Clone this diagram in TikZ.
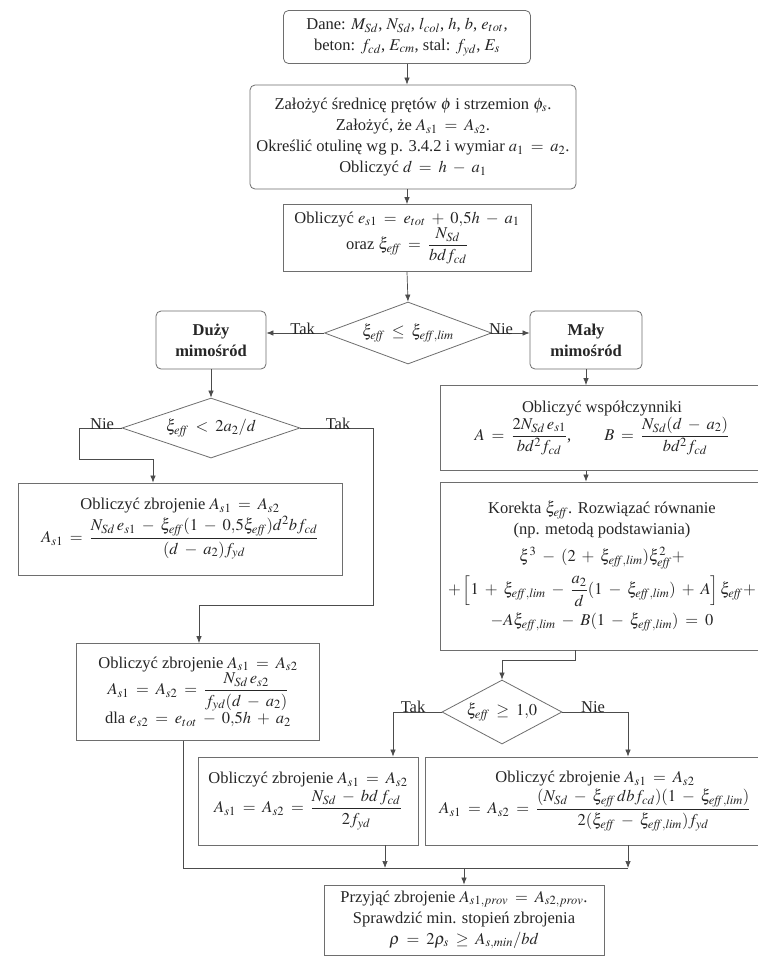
\documentclass[tikz,border=0pt]{standalone}
\usepackage{amsmath}
\usepackage{mathptmx}
\usepackage{fontspec}
\setmainfont{Liberation Serif}
\usetikzlibrary{shapes.geometric,arrows.meta}
\DeclareMathSizes{16.5}{16.5}{12.5}{10}
\definecolor{txtcol}{HTML}{262626}
\definecolor{bordercol}{HTML}{6E6E6E}
\definecolor{linecol}{HTML}{4C4C4C}
\newcommand{\ef}{\mathit{eff}}
\newcommand{\efl}{\mathit{eff,lim}}
\newcommand{\fsz}{\fontsize{16.5}{21}\selectfont}
\medmuskip=6.5mu plus 2mu minus 3mu
\thickmuskip=7.5mu plus 3mu
\begin{document}
\begin{tikzpicture}[x=1pt,y=-1pt,
  every node/.style={text=txtcol, font=\fsz},
  box/.style={draw=bordercol, line width=0.8pt, align=center, inner sep=2pt},
  rbox/.style={box, rounded corners=5pt},
  dia/.style={diamond, draw=bordercol, line width=0.8pt, aspect=2.6, inner sep=0pt},
  arr/.style={draw=linecol, line width=0.7pt, -{Latex[length=7pt,width=5.5pt]}},
  conn/.style={draw=linecol, line width=0.7pt},
  lbl/.style={inner sep=1pt}]
\useasboundingbox[fill=white] (0,0) rectangle (758,959);

% top chain
\node[rbox, minimum width=247pt, minimum height=53pt] (b1) at (407,37)
  {Dane: $M_{Sd}$, $N_{Sd}$, $l_{col}$, $h$, $b$, $e_{tot}$,\\
   beton: $f_{cd}$, $E_{cm}$, stal: $f_{yd}$, $E_s$};
\node[rbox, minimum width=326pt, minimum height=104pt] (b2) at (413,137)
  {Założyć średnicę prętów $\phi$ i strzemion $\phi_s$.\\
   Założyć, że $A_{s1}=A_{s2}$.\\
   Określić otulinę wg p. 3.4.2 i wymiar $a_1=a_2$.\\
   Obliczyć $d=h-a_1$};
\node[box, minimum width=248pt, minimum height=67pt] (b3) at (407,238)
  {Obliczyć $e_{s1}=e_{tot}+0{,}5h-a_1$\\
   oraz $\xi_{\ef}=\dfrac{N_{Sd}}{bdf_{cd}}$};
\node[dia, minimum width=167pt, minimum height=62pt] (d1) at (408,333)
  {$\xi_{\ef}\le\xi_{\efl}$};
\node[rbox, minimum width=110pt, minimum height=58pt, font=\fsz\bfseries] (dk) at (211,340)
  {Duży\\mimośród};
\node[rbox, minimum width=112pt, minimum height=58pt, font=\fsz\bfseries] (mk) at (586,340)
  {Mały\\mimośród};

% left branch
\node[dia, minimum width=178pt, minimum height=60pt] (d2) at (211,428)
  {$\xi_{\ef}<2a_2/d$};
\node[box, minimum width=324pt, minimum height=92pt] (b4) at (180,529)
  {Obliczyć zbrojenie $A_{s1}=A_{s2}$\\[2pt]
   $A_{s1}=\dfrac{N_{Sd}\,e_{s1}-\xi_{\ef}(1-0{,}5\xi_{\ef})d^2bf_{cd}}{(d-a_2)f_{yd}}$};
\node[box, minimum width=243pt, minimum height=97pt] (b5) at (198,692)
  {Obliczyć zbrojenie $A_{s1}=A_{s2}$\\
   $A_{s1}=A_{s2}=\dfrac{N_{Sd}\,e_{s2}}{f_{yd}(d-a_2)}$\\
   dla $e_{s2}=e_{tot}-0{,}5h+a_2$};

% right branch
\node[box, minimum width=324pt, minimum height=85pt] (b6) at (602,428)
  {Obliczyć współczynniki\\
   $A=\dfrac{2N_{Sd}\,e_{s1}}{bd^2f_{cd}}$,\qquad $B=\dfrac{N_{Sd}(d-a_2)}{bd^2f_{cd}}$};
\node[box, minimum width=324pt, minimum height=168pt] (b7) at (602,566)
  {Korekta $\xi_{\ef}$. Rozwiązać równanie\\
   (np. metodą podstawiania)\\[6pt]
   $\xi^3-(2+\xi_{\efl})\xi^2_{\ef}+$\\[6pt]
   $+\left[1+\xi_{\efl}-\dfrac{a_2}{d}(1-\xi_{\efl})+A\right]\xi_{\ef}+$\\[6pt]
   $-A\xi_{\efl}-B(1-\xi_{\efl})=0$};
\node[dia, minimum width=120pt, minimum height=64pt] (d3) at (502,712)
  {$\xi_{\ef}\ge 1{,}0$};
\node[box, minimum width=220pt, minimum height=88pt] (b8) at (308,801)
  {Obliczyć zbrojenie $A_{s1}=A_{s2}$\\[2pt]
   $A_{s1}=A_{s2}=\dfrac{N_{Sd}-bd\,f_{cd}}{2f_{yd}}$};
\node[box, minimum width=340pt, minimum height=88pt] (b9) at (595,801)
  {Obliczyć zbrojenie $A_{s1}=A_{s2}$\\[2pt]
   $A_{s1}=A_{s2}=\dfrac{(N_{Sd}-\xi_{\ef}\,dbf_{cd})(1-\xi_{\efl})}{2(\xi_{\ef}-\xi_{\efl})f_{yd}}$};
\node[box, minimum width=280pt, minimum height=70pt] (b10) at (464,920)
  {Przyjąć zbrojenie $A_{s1,prov}=A_{s2,prov}$.\\
   Sprawdzić min. stopień zbrojenia\\
   $\rho=2\rho_s\ge A_{s,min}/bd$};

% helper coordinates
\coordinate (nL1) at (79,428);
\coordinate (nL2) at (79,459);
\coordinate (nL3) at (153,459);
\coordinate (tR1) at (373,428);
\coordinate (tR2) at (373,605);
\coordinate (tR3) at (199,605);
\coordinate (k1) at (575,660);
\coordinate (k2) at (502,660);
\coordinate (t3) at (393,712);
\coordinate (n3) at (628,712);
\coordinate (m5) at (183,868);
\coordinate (m8) at (385,868);
\coordinate (m9) at (628,868);
\coordinate (mc) at (464,868);

% connectors
\draw[arr] (b1.south) -- (b1.south |- b2.north);
\draw[arr] (b2.south -| b3.north) -- (b3.north);
\draw[arr] (b3.south) -- (d1.north);
\draw[arr] (d1.west) -- (d1.west -| dk.east);
\draw[arr] (d1.east) -- (d1.east -| mk.west);
\draw[arr] (dk.south) -- (d2.north);
\draw[conn] (d2.west) -- (nL1) -- (nL2) -- (nL3);
\draw[arr] (nL3) -- (nL3 |- b4.north);
\draw[conn] (d2.east) -- (tR1) -- (tR2) -- (tR3);
\draw[arr] (tR3) -- (tR3 |- b5.north);
\draw[arr] (mk.south) -- (mk.south |- b6.north);
\draw[arr] (b6.south -| mk.south) -- (b7.north -| mk.south);
\draw[conn] (b7.south -| k1) -- (k1) -- (k2);
\draw[arr] (k2) -- (d3.north);
\draw[conn] (d3.west) -- (t3);
\draw[arr] (t3) -- (t3 |- b8.north);
\draw[conn] (d3.east) -- (n3);
\draw[arr] (n3) -- (n3 |- b9.north);
\draw[conn] (b5.south -| m5) -- (m5) -- (m9);
\draw[arr] (b8.south -| m8) -- (m8);
\draw[arr] (b9.south -| m9) -- (m9);
\draw[arr] (mc) -- (mc |- b10.north);

% labels
\node[lbl, anchor=south east] (lt1) at ([xshift=-8pt,yshift=-3pt]d1.west) {Tak};
\node[lbl, anchor=south west] (ln1) at ([xshift=-4pt,yshift=-3pt]d1.east) {Nie};
\node[lbl, anchor=south] (ln2) at ([yshift=-3pt]102,428) {Nie};
\node[lbl, anchor=south] (lt2) at ([yshift=-3pt]338,428) {Tak};
\node[lbl, anchor=south] (lt3) at ([yshift=-2pt]413,712) {Tak};
\node[lbl, anchor=south] (ln3) at ([yshift=-2pt]593,712) {Nie};
\end{tikzpicture}
\end{document}
